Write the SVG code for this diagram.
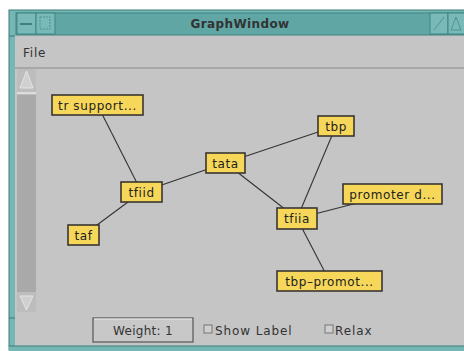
<svg xmlns="http://www.w3.org/2000/svg" width="464" height="351" viewBox="0 0 464 351">
<style>
.frame{fill:#74b7b5;stroke:#3d7c7a;stroke-width:1}
.node rect{fill:#f6d75a;stroke:#3a3530;stroke-width:1.6}
.node text{font-family:"DejaVu Sans",sans-serif;font-size:12px;letter-spacing:0.6px;fill:#222;text-anchor:middle}
.edge{stroke:#333;stroke-width:1.1}
.ui{font-family:"DejaVu Sans",sans-serif;fill:#333}
</style>
<rect width="464" height="351" fill="#ffffff"/>
<!-- window frame -->
<rect class="frame" x="9" y="10" width="462" height="340"/>
<rect x="15" y="35" width="456" height="311" fill="#c5c5c5"/>
<!-- title bar -->
<rect x="16" y="13" width="460" height="22" fill="#5fa6a5" stroke="#3f8482"/>
<rect x="17" y="13" width="19" height="21" fill="#79b9b7" stroke="#3f8482"/>
<line x1="20" y1="24" x2="32" y2="24" stroke="#3f7f7d" stroke-width="2"/>
<rect x="36" y="13" width="19" height="21" fill="#79b9b7" stroke="#3f8482"/>
<rect x="40" y="17" width="10" height="12" fill="none" stroke="#4f9593" stroke-dasharray="2 1"/>
<rect x="430" y="13" width="18" height="21" fill="#79b9b7" stroke="#3f8482"/>
<line x1="434" y1="30" x2="444" y2="17" stroke="#4f9593"/>
<rect x="448" y="13" width="18" height="21" fill="#79b9b7" stroke="#3f8482"/>
<path d="M451 30 L456 17 L461 30 Z" fill="none" stroke="#4f9593"/>
<text x="240" y="28" class="ui" font-size="12" font-weight="bold" letter-spacing="0.4" text-anchor="middle" fill="#223">GraphWindow</text>
<!-- menu -->
<text x="23" y="57" class="ui" font-size="12" letter-spacing="0.8">File</text>
<line x1="15" y1="68" x2="464" y2="68" stroke="#8a8a8a" stroke-width="1.2"/>
<!-- scrollbar -->
<rect x="17" y="69" width="19" height="243" fill="#a9a9a9"/>
<rect x="17" y="69" width="19" height="26" fill="#bdbdbd"/>
<path d="M20 88 L26.5 71 L33 88 Z" fill="#d0d0d0" stroke="#e4e4e4"/>
<line x1="17" y1="93" x2="36" y2="93" stroke="#dcdcdc" stroke-width="2"/>
<rect x="17" y="292" width="19" height="20" fill="#bdbdbd"/>
<path d="M20 296 L26.5 310 L33 296 Z" fill="#d0d0d0" stroke="#e4e4e4"/>
<!-- connectors -->
<g id="connectors">
<line class="edge" x1="97.5" y1="105" x2="141.5" y2="192"/>
<line class="edge" x1="141.5" y1="192" x2="225.5" y2="163"/>
<line class="edge" x1="141.5" y1="192" x2="83.5" y2="235"/>
<line class="edge" x1="225.5" y1="163" x2="336" y2="126"/>
<line class="edge" x1="225.5" y1="163" x2="297" y2="218.5"/>
<line class="edge" x1="336" y1="126" x2="297" y2="218.5"/>
<line class="edge" x1="297" y1="218.5" x2="392.5" y2="194"/>
<line class="edge" x1="297" y1="218.5" x2="329.5" y2="281"/>
</g>
<!-- nodes -->
<g id="tr_support" class="node"><rect x="52" y="95" width="91" height="20"/><text x="97.5" y="109.5">tr support...</text></g>
<g id="tfiid" class="node"><rect x="121" y="182" width="41" height="20"/><text x="141.5" y="196.5">tfiid</text></g>
<g id="taf" class="node"><rect x="68" y="225" width="31" height="20"/><text x="83.5" y="239.5">taf</text></g>
<g id="tata" class="node"><rect x="206" y="153" width="39" height="20"/><text x="225.5" y="167.5">tata</text></g>
<g id="tbp" class="node"><rect x="318" y="116" width="36" height="20"/><text x="336" y="130.5">tbp</text></g>
<g id="promoter_d" class="node"><rect x="343" y="184" width="99" height="20"/><text x="392.5" y="198.5">promoter d...</text></g>
<g id="tfiia" class="node"><rect x="277" y="208" width="40" height="21"/><text x="297" y="223">tfiia</text></g>
<g id="tbp_promot" class="node"><rect x="277" y="271" width="105" height="20"/><text x="329.5" y="285.5">tbp–promot...</text></g>
<!-- bottom controls -->
<rect x="93" y="318" width="100" height="24" fill="#c8c8c8" stroke="#555" stroke-width="1.2"/>
<line x1="94" y1="319" x2="192" y2="319" stroke="#eee"/>
<text x="143" y="335" class="ui" font-size="12" letter-spacing="0.3" text-anchor="middle">Weight: 1</text>
<rect x="204" y="325" width="8" height="8" fill="#cfcfcf" stroke="#777"/>
<text x="215" y="335" class="ui" font-size="12" letter-spacing="0.9">Show Label</text>
<rect x="325" y="325" width="8" height="8" fill="#cfcfcf" stroke="#777"/>
<text x="335" y="335" class="ui" font-size="12" letter-spacing="0.9">Relax</text>
<!-- bottom border -->
<rect x="9" y="346" width="462" height="5" fill="#74b7b5"/>
<line x1="9" y1="346" x2="464" y2="346" stroke="#3d7c7a"/>
<line x1="9" y1="36" x2="15" y2="36" stroke="#3d7c7a"/>
<line x1="9" y1="318" x2="15" y2="318" stroke="#3d7c7a"/>
</svg>
